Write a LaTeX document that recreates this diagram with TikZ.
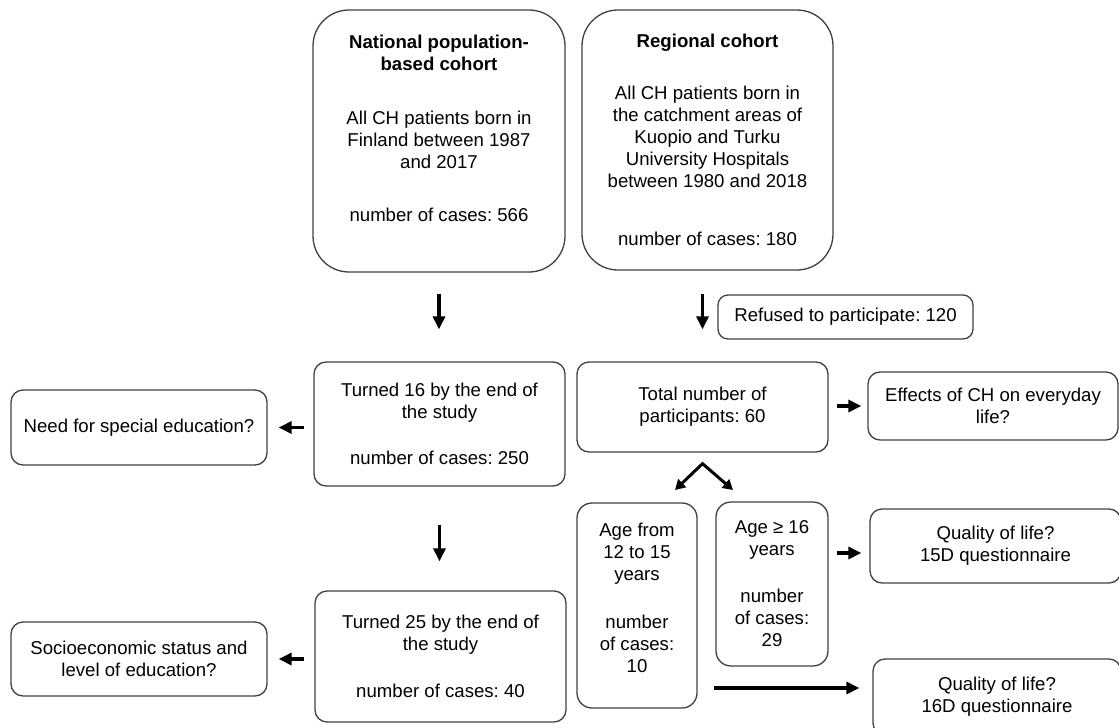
\documentclass[tikz,border=0pt]{standalone}
\usepackage{fontspec}
\setmainfont{Liberation Sans}
\usetikzlibrary{arrows.meta}
\frenchspacing

\begin{document}
\begin{tikzpicture}[x=1pt, y=-1pt,
    box/.style={draw=black!75, line width=1.3pt, rounded corners=12pt, align=center,
      inner sep=0pt, font=\fontsize{18.6}{22}\selectfont},
    bigbox/.style={box, rounded corners=36pt},
    arr/.style={line width=3.5pt, -{Triangle[length=13pt, width=12pt]}},
    split/.style={line width=3pt, {Triangle[length=10pt, width=11pt]}-{Triangle[length=10pt, width=11pt]}}]
  \clip (0,0) rectangle (1119,728);
  \node[bigbox, minimum width=252pt, minimum height=262pt] (nat) at (439,141)
    {\textbf{National population-}\\\textbf{based cohort}\\[32pt]All CH patients born in\\Finland between 1987\\and 2017\\[31pt]number of cases: 566\\[4pt]\mbox{}};
  \node[bigbox, minimum width=251pt, minimum height=260pt] (reg) at (707.5,140)
    {\textbf{Regional cohort}\\[30pt]All CH patients born in\\the catchment areas of\\Kuopio and Turku\\University Hospitals\\between 1980 and 2018\\[36pt]number of cases: 180};
  \node[box, rounded corners=10pt, minimum width=255pt, minimum height=44pt] (refused) at (845.5,317)
    {Refused to participate: 120};
  \node[box, minimum width=251pt, minimum height=124pt] (t16) at (439.5,424)
    {Turned 16 by the end of\\the study\\[24pt]number of cases: 250};
  \node[box, minimum width=256pt, minimum height=75pt] (special) at (139,427.5)
    {Need for special education?};
  \node[box, minimum width=251pt, minimum height=90pt] (total) at (702.5,407)
    {Total number of\\participants: 60};
  \node[box, minimum width=250pt, minimum height=68pt] (effects) at (993,406)
    {Effects of CH on everyday\\life?};
  \node[box, rounded corners=15pt, minimum width=120pt, minimum height=205pt] (young) at (637,605.5)
    {Age from\\12 to 15\\years\\[26pt]number\\of cases:\\10\\[-7pt]\mbox{}};
  \node[box, rounded corners=15pt, minimum width=112pt, minimum height=164pt] (old) at (772,584)
    {Age ≥ 16\\years\\[25pt]number\\of cases:\\29};
  \node[box, minimum width=251pt, minimum height=74pt] (qol15) at (995.5,546)
    {Quality of life?\\15D questionnaire};
  \node[box, minimum width=248pt, minimum height=76pt] (qol16) at (997,697)
    {Quality of life?\\16D questionnaire};
  \node[box, minimum width=251pt, minimum height=131pt] (t25) at (440.5,656.5)
    {Turned 25 by the end of\\the study\\[25pt]number of cases: 40};
  \node[box, minimum width=256pt, minimum height=74pt] (socio) at (139,659)
    {Socioeconomic status and\\level of education?};
  \coordinate (fork) at ([yshift=-11pt]total.south);
  \coordinate (toyoung) at (675,490);
  \coordinate (toold) at (733,490);
  \draw[arr, shorten <=21pt, shorten >=32pt] (nat.south) -- (nat.south |- t16.north);
  \draw[arr, shorten <=23pt, shorten >=32pt] (total.north |- reg.south) -- (total.north);
  \draw[arr, shorten <=9pt, shorten >=11pt] (t16.west |- special.east) -- (special.east);
  \draw[arr, shorten <=38pt, shorten >=29pt] (t16.south) -- (t16.south |- t25.north);
  \draw[arr, shorten <=10pt, shorten >=11pt] (t25.west |- socio.east) -- (socio.east);
  \draw[arr, shorten <=8pt, shorten >=6pt] (total.east |- effects.west) -- (effects.west);
  \draw[arr, shorten <=8pt, shorten >=8pt] ([yshift=-7pt]qol15.west -| old.east) -- ([yshift=-7pt]qol15.west);
  \draw[arr, shorten <=16pt, shorten >=13pt] ([yshift=9pt]qol16.west -| young.east) -- ([yshift=9pt]qol16.west);
  \draw[split] (toyoung) -- (fork) -- (toold);
\end{tikzpicture}
\end{document}
